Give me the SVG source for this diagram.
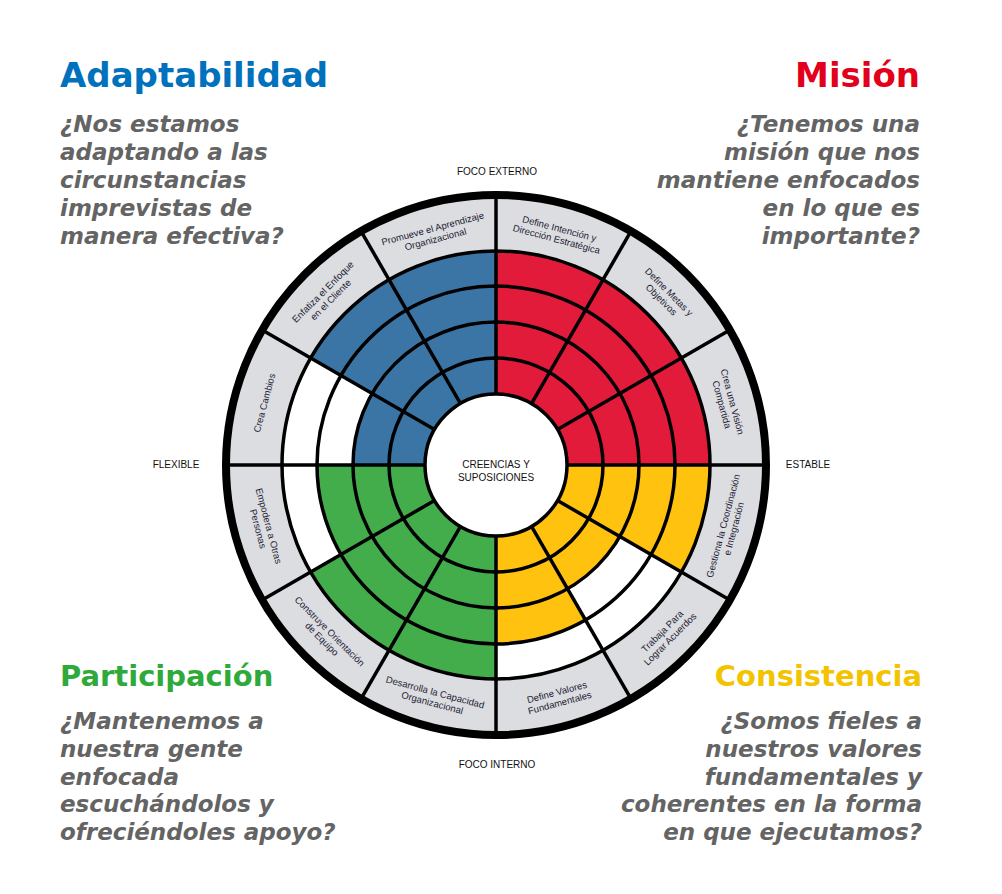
<svg xmlns="http://www.w3.org/2000/svg" width="1002" height="894" viewBox="0 0 1002 894">
<style>
.title{font-family:"DejaVu Sans","Verdana",sans-serif;font-weight:bold;font-size:34px}
.title2{font-family:"DejaVu Sans","Verdana",sans-serif;font-weight:bold;font-size:29px}
.q{font-family:"DejaVu Sans","Verdana",sans-serif;font-weight:bold;font-style:italic;font-size:23px;fill:#646464}
.lbl{font-family:"Liberation Sans",Arial,sans-serif;font-size:9.5px;fill:#1c1c36;text-anchor:middle}
.ax{font-family:"Liberation Sans",Arial,sans-serif;font-size:10px;fill:#111;text-anchor:middle}
.ring{fill:none;stroke:#000;stroke-width:3.5}
.sp{stroke:#000;stroke-width:3.5}
.blue{fill:#3a75a5}.red{fill:#e31b3b}.green{fill:#43ac4b}.yellow{fill:#ffc20f}
</style>
<rect width="1002" height="894" fill="#fff"/>

<g id="adaptabilidad">
<text class="title" x="60" y="87" fill="#0071bc">Adaptabilidad</text>
<text class="q" x="60" y="132">¿Nos estamos</text>
<text class="q" x="60" y="160">adaptando a las</text>
<text class="q" x="60" y="188">circunstancias</text>
<text class="q" x="60" y="216">imprevistas de</text>
<text class="q" x="60" y="244">manera efectiva?</text>
</g>
<g id="mision" text-anchor="end">
<text class="title" x="920" y="87" fill="#e2001a">Misión</text>
<text class="q" x="920" y="132">¿Tenemos una</text>
<text class="q" x="920" y="160">misión que nos</text>
<text class="q" x="920" y="188">mantiene enfocados</text>
<text class="q" x="920" y="216">en lo que es</text>
<text class="q" x="920" y="244">importante?</text>
</g>
<g id="participacion">
<text class="title2" x="60" y="686" fill="#2eaa3a">Participación</text>
<text class="q" x="60" y="729">¿Mantenemos a</text>
<text class="q" x="60" y="757">nuestra gente</text>
<text class="q" x="60" y="785">enfocada</text>
<text class="q" x="60" y="812">escuchándolos y</text>
<text class="q" x="60" y="840">ofreciéndoles apoyo?</text>
</g>
<g id="consistencia" text-anchor="end">
<text class="title2" x="922" y="686" fill="#f4c300">Consistencia</text>
<text class="q" x="922" y="729">¿Somos fieles a</text>
<text class="q" x="922" y="757">nuestros valores</text>
<text class="q" x="922" y="785">fundamentales y</text>
<text class="q" x="922" y="812">coherentes en la forma</text>
<text class="q" x="922" y="840">en que ejecutamos?</text>
</g>

<g id="wheel">
<circle cx="496" cy="465" r="270" fill="#dcdde0"/>
<circle cx="496" cy="465" r="214" fill="#fff"/>
<path class="red" d="M496,465 L710,465 A214,214 0 0 0 496,251 Z"/>
<path class="blue" d="M496,465 L496,251 A214,214 0 0 0 310.67,358 Z"/>
<path class="blue" d="M496,465 L372.16,393.5 A143,143 0 0 0 353,465 Z"/>
<path class="green" d="M496,465 L317,465 A179,179 0 0 0 340.98,554.5 Z"/>
<path class="green" d="M496,465 L310.67,572 A214,214 0 0 0 496,679 Z"/>
<path class="yellow" d="M496,465 L496,644 A179,179 0 0 0 585.5,620.02 Z"/>
<path class="yellow" d="M496,465 L567.5,588.84 A143,143 0 0 0 619.84,536.5 Z"/>
<path class="yellow" d="M496,465 L681.33,572 A214,214 0 0 0 710,465 Z"/>
<circle cx="496" cy="465" r="71" fill="#fff"/>
<circle class="ring" cx="496" cy="465" r="71"/>
<circle class="ring" cx="496" cy="465" r="107"/>
<circle class="ring" cx="496" cy="465" r="143"/>
<circle class="ring" cx="496" cy="465" r="179"/>
<circle class="ring" cx="496" cy="465" r="214"/>
</g>

<g id="connectors">
<line class="sp" x1="567" y1="465" x2="766" y2="465"/>
<line class="sp" x1="557.49" y1="429.5" x2="729.83" y2="330"/>
<line class="sp" x1="531.5" y1="403.51" x2="631" y2="231.17"/>
<line class="sp" x1="496" y1="394" x2="496" y2="195"/>
<line class="sp" x1="460.5" y1="403.51" x2="361" y2="231.17"/>
<line class="sp" x1="434.51" y1="429.5" x2="262.17" y2="330"/>
<line class="sp" x1="425" y1="465" x2="226" y2="465"/>
<line class="sp" x1="434.51" y1="500.5" x2="262.17" y2="600"/>
<line class="sp" x1="460.5" y1="526.49" x2="361" y2="698.83"/>
<line class="sp" x1="496" y1="536" x2="496" y2="735"/>
<line class="sp" x1="531.5" y1="526.49" x2="631" y2="698.83"/>
<line class="sp" x1="557.49" y1="500.5" x2="729.83" y2="600"/>
<circle cx="496" cy="465" r="270" fill="none" stroke="#000" stroke-width="8"/>
</g>

<g id="labels">
<g id="l15" transform="translate(727.82,402.88) rotate(75)"><text class="lbl" y="-1.5">Crea una Visión</text><text class="lbl" y="9.5">Compartida</text></g>
<g id="l45" transform="translate(665.71,295.29) rotate(45)"><text class="lbl" y="-1.5">Define Metas y</text><text class="lbl" y="9.5">Objetivos</text></g>
<g id="l75" transform="translate(558.12,233.18) rotate(15)"><text class="lbl" y="-1.5">Define Intención y</text><text class="lbl" y="9.5">Dirección Estratégica</text></g>
<g id="l105" transform="translate(433.88,233.18) rotate(-15)"><text class="lbl" y="-1.5">Promueve el Aprendizaje</text><text class="lbl" y="9.5">Organizacional</text></g>
<g id="l135" transform="translate(326.29,295.29) rotate(-45)"><text class="lbl" y="-1.5">Enfatiza el Enfoque</text><text class="lbl" y="9.5">en el Cliente</text></g>
<g id="l165" transform="translate(264.18,402.88) rotate(-75)"><text class="lbl" y="3.5">Crea Cambios</text></g>
<g id="l195" transform="translate(264.18,527.12) rotate(75)"><text class="lbl" y="-1.5">Empodera a Otras</text><text class="lbl" y="9.5">Personas</text></g>
<g id="l225" transform="translate(326.29,634.71) rotate(45)"><text class="lbl" y="-1.5">Construye Orientación</text><text class="lbl" y="9.5">de Equipo</text></g>
<g id="l255" transform="translate(433.88,696.82) rotate(15)"><text class="lbl" y="-1.5">Desarrolla la Capacidad</text><text class="lbl" y="9.5">Organizacional</text></g>
<g id="l285" transform="translate(558.12,696.82) rotate(-15)"><text class="lbl" y="-1.5">Define Valores</text><text class="lbl" y="9.5">Fundamentales</text></g>
<g id="l315" transform="translate(665.71,634.71) rotate(-45)"><text class="lbl" y="-1.5">Trabaja Para</text><text class="lbl" y="9.5">Lograr Acuerdos</text></g>
<g id="l345" transform="translate(727.82,527.12) rotate(-75)"><text class="lbl" y="-1.5">Gestiona la Coordinación</text><text class="lbl" y="9.5">e Integración</text></g>
</g>

<g id="center">
<text class="ax" x="496" y="468">CREENCIAS Y</text>
<text class="ax" x="496" y="481">SUPOSICIONES</text>
</g>
<g id="axes">
<text class="ax" x="497" y="175">FOCO EXTERNO</text>
<text class="ax" x="497" y="768">FOCO INTERNO</text>
<text class="ax" x="176" y="468">FLEXIBLE</text>
<text class="ax" x="808" y="468">ESTABLE</text>
</g>
</svg>
